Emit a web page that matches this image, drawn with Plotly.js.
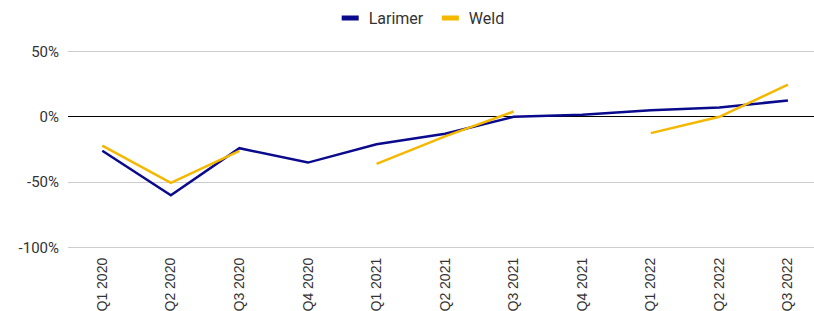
<!DOCTYPE html>
<html><head><meta charset="utf-8">
<script src="https://cdn.plot.ly/plotly-3.0.1.min.js"></script>
<style>html,body{margin:0;padding:0;background:#fff}#c{width:814px;height:311px}</style>
</head><body><div id="c"></div>
<script>
const quarters = ["Q1 2020","Q2 2020","Q3 2020","Q4 2020","Q1 2021","Q2 2021","Q3 2021","Q4 2021","Q1 2022","Q2 2022","Q3 2022"];
const larimer = [-26, -60, -24, -35, -21, -13, 0, 1.5, 5, 7, 12.5];
const weld = [-22, -50.5, -26, null, -36, -15, 4, null, -12.5, 0, 24.5];
const yTicks = [-100, -50, 0, 50];
const yTickText = ["-100%", "-50%", "0%", "50%"];

const traces = [
  {x: quarters, y: larimer, name: "Larimer", type: "scatter", mode: "lines",
   line: {color: "#0a0a8c", width: 2.5}, connectgaps: false},
  {x: quarters, y: weld, name: "Weld", type: "scatter", mode: "lines",
   line: {color: "#f5b800", width: 2.5}, connectgaps: false}
];
const layout = {
  width: 814, height: 311,
  margin: {l: 68, r: 0, t: 50, b: 62},
  paper_bgcolor: "#fff", plot_bgcolor: "#fff",
  font: {family: "Roboto, sans-serif", size: 15, color: "#333"},
  showlegend: true,
  legend: {orientation: "h", xref: "container", x: 0.515, xanchor: "center",
           yref: "container", y: 0.942, yanchor: "middle",
           font: {family: "Roboto, sans-serif", size: 16, color: "#333"}, itemwidth: 30},
  xaxis: {type: "category", range: [-0.5, 10.38], tickangle: -90,
          tickfont: {family: "Arial", size: 14, color: "#333"},
          showgrid: false, zeroline: false, showline: false, ticks: "",
          ticklabelstandoff: 5, fixedrange: true},
  yaxis: {range: [-101, 51], tickvals: yTicks, ticktext: yTickText,
          tickfont: {family: "Roboto, sans-serif", size: 15, color: "#333"},
          gridcolor: "#cccccc", gridwidth: 1,
          zeroline: true, zerolinecolor: "#000", zerolinewidth: 1, showline: false,
          ticks: "", ticklabelstandoff: 8, fixedrange: true}
};
Plotly.newPlot("c", traces, layout, {displayModeBar: false, staticPlot: true}).then(function () {
  // legend swatches: short thick bars as in the reference
  document.querySelectorAll("#c .legend .traces path.js-line").forEach(function (p) {
    p.setAttribute("d", "M13,0h17");
    p.style.strokeWidth = "5px";
  });
});
</script></body></html>
